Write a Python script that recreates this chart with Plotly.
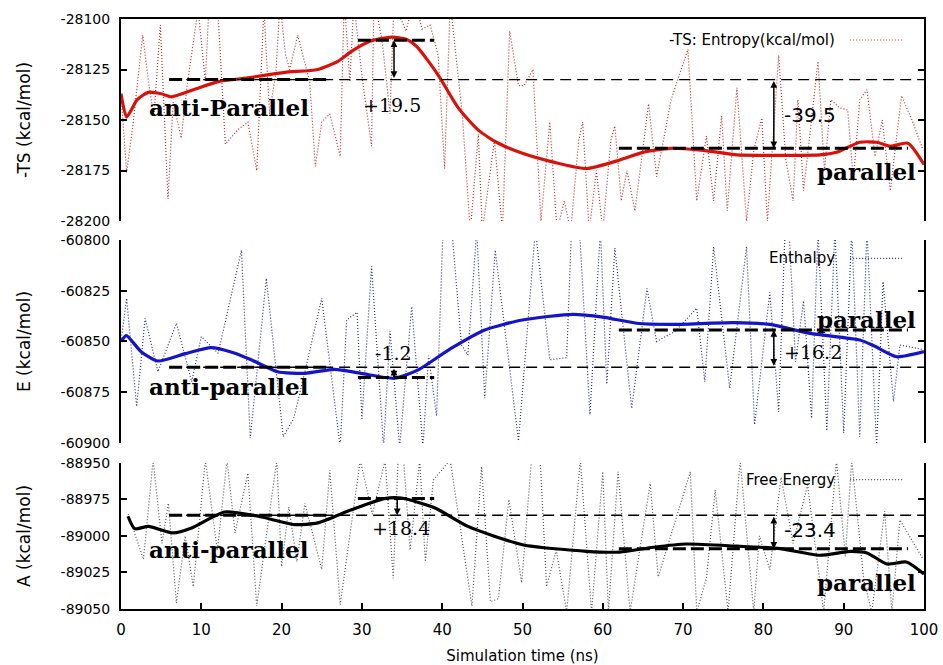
import plotly.graph_objects as go

# ---------------- data ----------------
# -TS (entropy) panel
ts_smooth_t = [0, 0.7, 2, 3.4, 5, 6.3, 9, 12.1, 16, 20.4, 24.5, 27, 28.7, 31, 33.7, 35.5, 36.8, 38.2, 39.7,
               42, 44.5, 47, 50, 54, 58, 62.1, 65, 68.4, 72.5, 76.7, 80, 84, 87, 89.1, 92, 94.1, 95.8, 98, 100]
ts_smooth_v = [-28137, -28148.5, -28140, -28136.3, -28137, -28138.5, -28135, -28131, -28129, -28126.4, -28125,
               -28121, -28116, -28111, -28109, -28110, -28113.5, -28120.5, -28129, -28144, -28155, -28161.5,
               -28166.5, -28171, -28174, -28169.8, -28166, -28164, -28165, -28167.3, -28167.5, -28167.5,
               -28167.3, -28166, -28161, -28161, -28163, -28161.5, -28172]
ts_raw_t = [0, 0.7, 1.5, 2.7, 3.6, 4.1, 4.9, 5.85, 6.5, 7.5, 8.3, 9.6, 10.5, 11, 12, 13, 14.5, 15.8, 16.9, 17.8,
            18.5, 19.3, 19.8, 20.5, 21, 22, 23.5, 24.2, 25, 26, 27.3, 27.8, 28.5, 29, 30, 31.2, 31.5, 32.5, 33.5,
            34, 35.5, 36.5, 37.5, 38.5, 39.5, 40.3, 41, 42.5, 43.5, 44.5, 45, 46.5, 47.5, 48.4, 49.5,
            50.2, 51.3, 52.3, 53.4, 54.3, 55.2, 56.0, 57.0, 57.5, 58.3, 59.2, 60.0, 61.0, 61.5, 62.3, 63.0, 64.0,
            65.7, 66.7, 68.5, 70.6, 71.7, 72.9, 73.8, 74.8, 75.5, 76.7, 77.9, 78.8, 79.8, 80.5, 81.9, 82.8, 83.7,
            84.3, 85.0, 86.0, 86.8, 87.6, 88.4, 89.5, 90.5, 91.2, 92.0, 92.9, 93.9, 94.8, 95.8, 97.2, 98.5, 99.9]
ts_raw_v = [-28137, -28176, -28152, -28108, -28136, -28148, -28103, -28189, -28141, -28159, -28131, -28095,
            -28131, -28090, -28092, -28162, -28155, -28151, -28175, -28095, -28147, -28126, -28092, -28118,
            -28125, -28108, -28131, -28173, -28151, -28147, -28168, -28090, -28131, -28092, -28128, -28163,
            -28090, -28110, -28147, -28092, -28106, -28090, -28105, -28103, -28118, -28174, -28092, -28147,
            -28205, -28157, -28205, -28160, -28205, -28106, -28133,
            -28133, -28125, -28200, -28151, -28205, -28190, -28205, -28160, -28151, -28205, -28175, -28205,
            -28160, -28153, -28190, -28175, -28195, -28142, -28178, -28140, -28115, -28190, -28158, -28190,
            -28148, -28195, -28134, -28200, -28165, -28149, -28200, -28118, -28170, -28190, -28140, -28185,
            -28150, -28121, -28175, -28140, -28144, -28145, -28180, -28140, -28135, -28168, -28150, -28185,
            -28138, -28150, -28165]

# Enthalpy panel
e_smooth_t = [0, 0.66, 2.5, 4.6, 8, 11.2, 14, 16.2, 19.5, 22.9, 26.6, 29.9, 34.1, 37, 41.1, 45.3, 50, 56.3,
              60, 64.2, 68.4, 76.3, 80.8, 85.8, 92, 93.7, 96.6, 100]
e_smooth_v = [-60850.1, -60847.1, -60855, -60859.6, -60856, -60853, -60855.5, -60859, -60864.9, -60865.7,
              -60863.7, -60865.7, -60868.1, -60864, -60853.4, -60844.3, -60839.4, -60836.6, -60838, -60841,
              -60841.6, -60840.7, -60841.6, -60846, -60849.3, -60852, -60857.5, -60855]
e_raw_t = [0, 0.7, 1.95, 3, 4.6, 6.9, 8.8, 10, 12.1, 15, 16.1, 18.1, 20.2, 21.5, 22.9, 25, 27.3, 28.1, 29.4,
           30, 31.2, 32.7, 33.5, 34.7, 36.2, 37.6, 38.3, 39.3, 40.1, 41.2, 42.4, 43.2, 44.3, 45.3, 46.6,
           49.5, 51.6, 53.4, 55.5, 56.1, 57.1, 58.4, 59.7, 60.5, 61.5, 63.6, 65.5, 66.7, 69, 71.7, 72.7,
           73.8, 75.8, 77.9, 78.9, 80.8, 81.9, 82.7, 83.2, 84, 85, 86, 86.8, 87.9, 88.9, 90, 91, 92, 92.9,
           94.1, 94.9, 96.2, 97, 99.9]
e_raw_v = [-60850, -60828.7, -60882, -60838.6, -60864.9, -60841, -60869.8, -60847.6, -60855.8, -60805,
           -60897.7, -60818.9, -60896.9, -60888, -60864.9, -60828.7, -60902, -60839.4, -60835.6, -60888,
           -60813, -60902, -60845, -60902, -60832.8, -60902, -60857, -60886.7, -60795, -60795, -60851.7,
           -60856.7, -60795, -60878, -60805, -60899, -60795, -60859, -60858, -60795, -60795, -60886, -60795,
           -60871, -60804, -60883, -60823.8, -60850, -60845, -60833.6, -60869.8, -60803.3, -60873, -60803.3,
           -60891, -60825.8, -60884.6, -60795, -60795, -60860, -60830, -60887.8, -60795, -60894, -60795,
           -60895, -60795, -60897, -60795, -60902, -60820.5, -60879.6, -60851.7, -60854]

# Free energy panel
a_smooth_t = [0.87, 1.7, 3.4, 6.5, 8.8, 12.9, 17.1, 21.6, 24.5, 28.7, 32.8, 34.9, 39.1, 43.2, 50, 58, 62.1,
              66.3, 70.4, 76.7, 82.1, 87, 90.8, 92.9, 95.4, 97.8, 100]
a_smooth_v = [-88986.5, -88995, -88993.4, -88997.9, -88994.5, -88983.6, -88986.5, -88992.2, -88991, -88982,
              -88974.4, -88974, -88980.8, -88993.4, -89006, -89010.5, -89011, -89007.7, -89005.5, -89007,
              -89008.7, -89013.2, -89010.5, -89011.6, -89019.2, -89017.8, -89026]
a_raw_t = [0.9, 2.8, 4, 5.1, 5.9, 6.9, 8, 9, 10.5, 12, 13.2, 14.2, 15.8, 16.9, 19.4, 20, 20.9, 21.9, 22.9, 25,
           26, 27.3, 29.8, 31.3, 32.9, 33.9, 34.5, 35.2, 36, 37.2, 37.9, 38.9, 41, 43.7, 44.9, 46, 47, 48.3,
           49.9, 51.1, 52.2, 53, 54.2, 55.5, 57.2, 58.6, 60, 60.7, 61.9, 63.4, 65.9, 66.9, 70.9, 71.7, 72.9,
           74, 75.6, 77.1, 78.8, 79.5, 80.8, 82.2, 83.7, 85.5, 87.5, 89.1, 90.2, 91, 92.5, 93.5, 95.1, 96, 97,
           99.9]
a_raw_v = [-88985, -89016, -88948, -89005, -88977.6, -89046, -89000, -89034.7, -88948, -89010, -88948, -88998,
           -88957, -89048, -88948, -89021, -88980, -89017.6, -88977.6, -89023, -88955, -89047, -88948, -88985,
           -88948, -89029, -88948, -88948, -89009.6, -88948, -89017.6, -88961.6, -88948, -89048, -88952.5,
           -89045, -89043, -88975, -89032, -88949, -88948, -89034.7, -89009.6, -89052, -88948, -89052, -88956,
           -89052, -88956, -89052, -88964, -89028, -88956, -89052, -89029, -88968.5, -89052, -88948, -89052,
           -89000, -89023, -88960, -89005, -88965, -89052, -88948, -89014, -88948, -89030, -89052, -88983,
           -89052, -88989, -89016]

# reference levels (base, extreme, final) and their spans
ts_levels = [-28130, -28110.5, -28164]
e_levels = [-60862.7, -60867.8, -60844.3]
a_levels = [-88985.8, -88974.4, -89008.7]
base_span = [6, 25.6]
peak_span = [29.5, 39.0]
final_span = [62, 98]
thin_span = [6, 100]
diff_labels = [["+19.5", "-39.5"], ["-1.2", "+16.2"], ["+18.4", "-23.4"]]
state_labels = [["anti-Parallel", "parallel"], ["anti-parallel", "parallel"], ["anti-parallel", "parallel"]]
legend_names = ["-TS: Entropy(kcal/mol)", "Enthalpy", "Free Energy"]
y_titles = ["-TS (kcal/mol)", "E (kcal/mol)", "A (kcal/mol)"]
y_ranges = [[-28200, -28100], [-60900, -60800], [-89050, -88950]]
x_ticks = list(range(0, 101, 10))

# ---------------- figure ----------------
fig = go.Figure()
smooth_colors = ["rgb(215,18,10)", "rgb(20,20,200)", "rgb(0,0,0)"]
raw_colors = ["rgb(190,45,45)", "rgb(45,45,150)", "rgb(85,85,85)"]
panels = [
    (ts_raw_t, ts_raw_v, ts_smooth_t, ts_smooth_v, ts_levels),
    (e_raw_t, e_raw_v, e_smooth_t, e_smooth_v, e_levels),
    (a_raw_t, a_raw_v, a_smooth_t, a_smooth_v, a_levels),
]
axis_ids = [("x", "y"), ("x2", "y2"), ("x3", "y3")]

for i, (rt, rv, st, sv, lv) in enumerate(panels):
    xa, ya = axis_ids[i]
    fig.add_trace(go.Scatter(x=rt, y=rv, mode="lines", xaxis=xa, yaxis=ya,
                             line=dict(color=raw_colors[i], width=1.2, dash="1px,2px"), showlegend=False))
    fig.add_trace(go.Scatter(x=st, y=sv, mode="lines", xaxis=xa, yaxis=ya,
                             line=dict(color=smooth_colors[i], width=3.2, shape="spline", smoothing=0.6),
                             showlegend=False))
    # thin long dashed base line
    fig.add_trace(go.Scatter(x=thin_span, y=[lv[0], lv[0]], mode="lines", xaxis=xa, yaxis=ya,
                             line=dict(color="black", width=1.4, dash="11px,6px"), showlegend=False))
    # thick dashed segments
    for span, lvl in [(base_span, lv[0]), (peak_span, lv[1]), (final_span, lv[2])]:
        fig.add_trace(go.Scatter(x=span, y=[lvl, lvl], mode="lines", xaxis=xa, yaxis=ya,
                                 line=dict(color="black", width=3, dash="13px,5px"), showlegend=False))

annotations = []
serif_bold = dict(family="DejaVu Serif", size=23, color="black", weight="bold")
serif_num = dict(family="DejaVu Serif", size=19, color="black")
sans_num = dict(family="DejaVu Sans", size=20, color="black")

# state labels positions (t, value)
state_pos = [[(13.4, -28144), (92.9, -28175.6)],
             [(13.4, -60872.3), (92.9, -60839.4)],
             [(13.4, -89009.4), (92.9, -89032)]]
diff_pos = [[(33.7, -28142.6, "center", serif_num), (82.3, -28147.5, "left", sans_num)],
            [(33.9, -60855.8, "center", serif_num), (82.3, -60855.3, "left", serif_num)],
            [(34.9, -88994.5, "center", serif_num), (82.3, -88995.7, "left", sans_num)]]
arrow_x = [[34.0, 81.3], [34.0, 81.3], [34.4, 81.3]]
arrow_sides = [["end+start", "end+start"], ["end+start", "end+start"], ["end", "end+start"]]
legend_y = [-28110.4, -60809, -88961.4]

for i in range(3):
    xa, ya = axis_ids[i]
    lv = panels[i][4]
    for j in range(2):
        t, v = state_pos[i][j]
        annotations.append(dict(x=t, y=v, xref=xa, yref=ya, text=state_labels[i][j], showarrow=False,
                                font=serif_bold, xanchor="center", yanchor="middle"))
        t, v, anc, fnt = diff_pos[i][j]
        annotations.append(dict(x=t, y=v, xref=xa, yref=ya, text=diff_labels[i][j], showarrow=False,
                                font=fnt, xanchor=anc, yanchor="middle"))
    # arrows: first between extreme and base, second between base and final
    pairs = [(lv[1], lv[0]), (lv[2], lv[0])]
    for j, (yhead, ytail) in enumerate(pairs):
        if j == 0 and i == 2:
            yhead, ytail = lv[0], lv[1]
        annotations.append(dict(x=arrow_x[i][j], y=yhead, ax=arrow_x[i][j], ay=ytail, xref=xa, yref=ya,
                                axref=xa, ayref=ya, showarrow=True, arrowhead=2, startarrowhead=2,
                                arrowside=arrow_sides[i][j], arrowsize=0.9, startarrowsize=0.9,
                                arrowwidth=1.5, arrowcolor="black", text=""))
    # legend text + sample
    annotations.append(dict(x=89.2, y=legend_y[i], xref=xa, yref=ya, text=legend_names[i], showarrow=False,
                            font=dict(family="DejaVu Sans", size=15, color="black"),
                            xanchor="right", yanchor="middle"))
    fig.add_shape(type="line", x0=90.8, x1=97.4, y0=legend_y[i], y1=legend_y[i], xref=xa, yref=ya,
                  line=dict(color=raw_colors[i], width=1.2, dash="1px,2px"))

tick_font = dict(family="DejaVu Sans", size=14, color="black")
domains = [[0.6576, 1.0], [0.2814, 0.6254], [0.0, 0.2475]]


def ytick_text(rng):
    vals = list(range(rng[0], rng[1] + 1, 25))
    return vals, [str(v) for v in vals]


layout = dict(
    width=943, height=665,
    margin=dict(l=121, r=19, t=19, b=56),
    paper_bgcolor="white", plot_bgcolor="white",
    showlegend=False,
    annotations=annotations,
)
for i in range(3):
    xkey = "xaxis" if i == 0 else f"xaxis{i + 1}"
    ykey = "yaxis" if i == 0 else f"yaxis{i + 1}"
    ya = axis_ids[i][1]
    xa = axis_ids[i][0]
    tv, tt = ytick_text(y_ranges[i])
    layout[ykey] = dict(domain=domains[i], range=y_ranges[i], anchor=xa, tickvals=tv, ticktext=tt,
                        ticks="inside", ticklen=6, tickwidth=2, tickcolor="black", automargin=False,
                        showline=True, linewidth=2, linecolor="black", mirror="ticks",
                        showgrid=False, zeroline=False, tickfont=tick_font, ticklabelstandoff=6,
                        title=dict(text=y_titles[i], font=dict(family="DejaVu Sans", size=17, color="black"),
                                   standoff=26))
    xa_cfg = dict(domain=[0, 1], range=[0, 100], anchor=ya, showgrid=False, zeroline=False, automargin=False)
    if i == 0:
        xa_cfg.update(side="top", showline=True, linewidth=2, linecolor="black", showticklabels=False,
                      ticks="")
    elif i == 1:
        xa_cfg.update(showline=False, showticklabels=False, ticks="")
    else:
        xa_cfg.update(showline=True, linewidth=2, linecolor="black", ticks="inside", ticklen=6,
                      tickwidth=2, tickcolor="black", tickvals=x_ticks,
                      ticktext=[str(v) for v in x_ticks], tickfont=dict(family="DejaVu Sans", size=15,
                                                                      color="black"),
                      ticklabelstandoff=6,
                      title=dict(text="Simulation time (ns)",
                                 font=dict(family="DejaVu Sans", size=15, color="black"), standoff=14))
    layout[xkey] = xa_cfg

fig.update_layout(**layout)
fig.write_html("out.html")
